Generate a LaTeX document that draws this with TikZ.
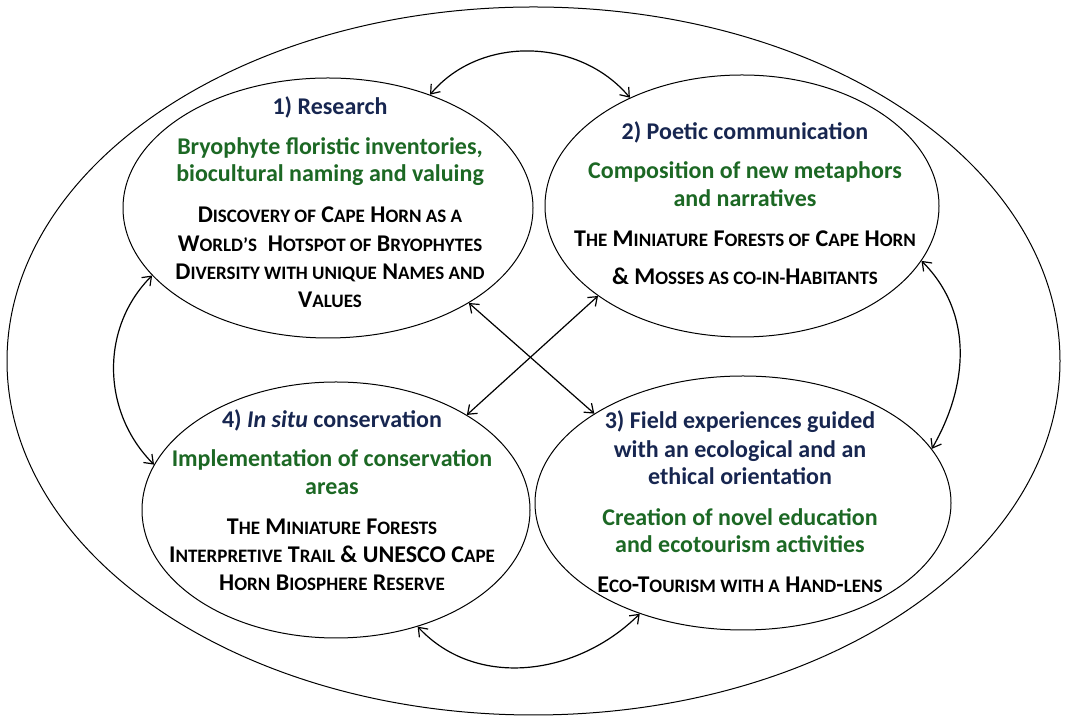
\documentclass[tikz,border=0pt]{standalone}
\usepackage{fontspec}
\setmainfont{Carlito}
\usetikzlibrary{arrows.meta,shapes.geometric}
\definecolor{navy}{RGB}{23,38,80}
\definecolor{dgreen}{RGB}{28,104,36}
\newcommand\sk[1]{{\fontsize{19}{22}\selectfont #1}}
\begin{document}
\begin{tikzpicture}[x=1pt,y=1pt,
  bub/.style={draw, ellipse, line width=1pt, inner sep=0pt},
  ttl/.style={font=\fontsize{24}{28}\selectfont\bfseries, text=navy, inner sep=0pt, anchor=base},
  grn/.style={font=\fontsize{24}{28}\selectfont\bfseries, text=dgreen, inner sep=0pt, anchor=base},
  scl/.style={font=\fontsize{24}{28}\selectfont\bfseries, text=black, inner sep=0pt, anchor=base},
  arr/.style={{Straight Barb[length=8pt,width=12pt]}-{Straight Barb[length=8pt,width=12pt]}, line width=1.2pt}
]
\fill[white] (0,0) rectangle (1069,722);
\useasboundingbox (0,0) rectangle (1069,722);

\node[bub, minimum width=1053, minimum height=708] (outer) at (533.5,361) {};
\node[bub, minimum width=410, minimum height=260] (r1) at (328,514) {};
\node[bub, minimum width=394, minimum height=262] (r2) at (742,516) {};
\node[bub, minimum width=388, minimum height=256] (r4) at (336,212) {};
\node[bub, minimum width=416, minimum height=254] (r3) at (743,219) {};

% Research
\node[ttl] (t1) at (330,607) {1) Research};
\node[grn] (g1a) at (330,567) {Bryophyte floristic inventories,};
\node[grn] (g1b) at (330,540) {biocultural naming and valuing};
\node[scl] (s1a) at (330,499) {D\sk{ISCOVERY OF} C\sk{APE} H\sk{ORN AS A}};
\node[scl] (s1b) at (330,470) {W\sk{ORLD’S}\ \ H\sk{OTSPOT OF} B\sk{RYOPHYTES}};
\node[scl] (s1c) at (330,442) {D\sk{IVERSITY WITH UNIQUE} N\sk{AMES AND}};
\node[scl] (s1d) at (330,414) {V\sk{ALUES}};

% Poetic
\node[ttl] (t2) at (745,582) {2) Poetic communication};
\node[grn] (g2a) at (745,543) {Composition of new metaphors};
\node[grn] (g2b) at (745,515) {and narratives};
\node[scl] (s2a) at (745,475) {T\sk{HE} M\sk{INIATURE} F\sk{ORESTS OF} C\sk{APE} H\sk{ORN}};
\node[scl] (s2b) at (745,437) {\& M\sk{OSSES AS CO-IN-}H\sk{ABITANTS}};

% In situ
\node[ttl] (t4) at (332,294) {4) \textit{In situ} conservation};
\node[grn] (g4a) at (332,255) {Implementation of conservation};
\node[grn] (g4b) at (332,227) {areas};
\node[scl] (s4a) at (332,187) {T\sk{HE} M\sk{INIATURE} F\sk{ORESTS}};
\node[scl] (s4b) at (332,159) {I\sk{NTERPRETIVE} T\sk{RAIL} \& UNESCO C\sk{APE}};
\node[scl] (s4c) at (332,131) {H\sk{ORN} B\sk{IOSPHERE} R\sk{ESERVE}};

% Field
\node[ttl] (t3a) at (740,293) {3) Field experiences guided};
\node[ttl] (t3b) at (740,264) {with an ecological and an};
\node[ttl] (t3c) at (740,237) {ethical orientation};
\node[grn] (g3a) at (740,196) {Creation of novel education};
\node[grn] (g3b) at (740,169) {and ecotourism activities};
\node[scl] (s3a) at (740,129) {E\sk{CO}-T\sk{OURISM WITH A} H\sk{AND}-\sk{LENS}};

% connectors
\draw[arr] (r1.48) to[out=50,in=130] (r2.136);
\draw[arr] (r1.201) to[out=225,in=135] (r4.166);
\draw[arr] (r2.-17) to[out=-45,in=60] (r3.16);
\draw[arr] (r4.-55) to[out=-47,in=225] (r3.227);
\draw[arr] (r1.-34) -- (r3.149);
\draw[arr] (r2.212) -- (r4.36);
\end{tikzpicture}
\end{document}
